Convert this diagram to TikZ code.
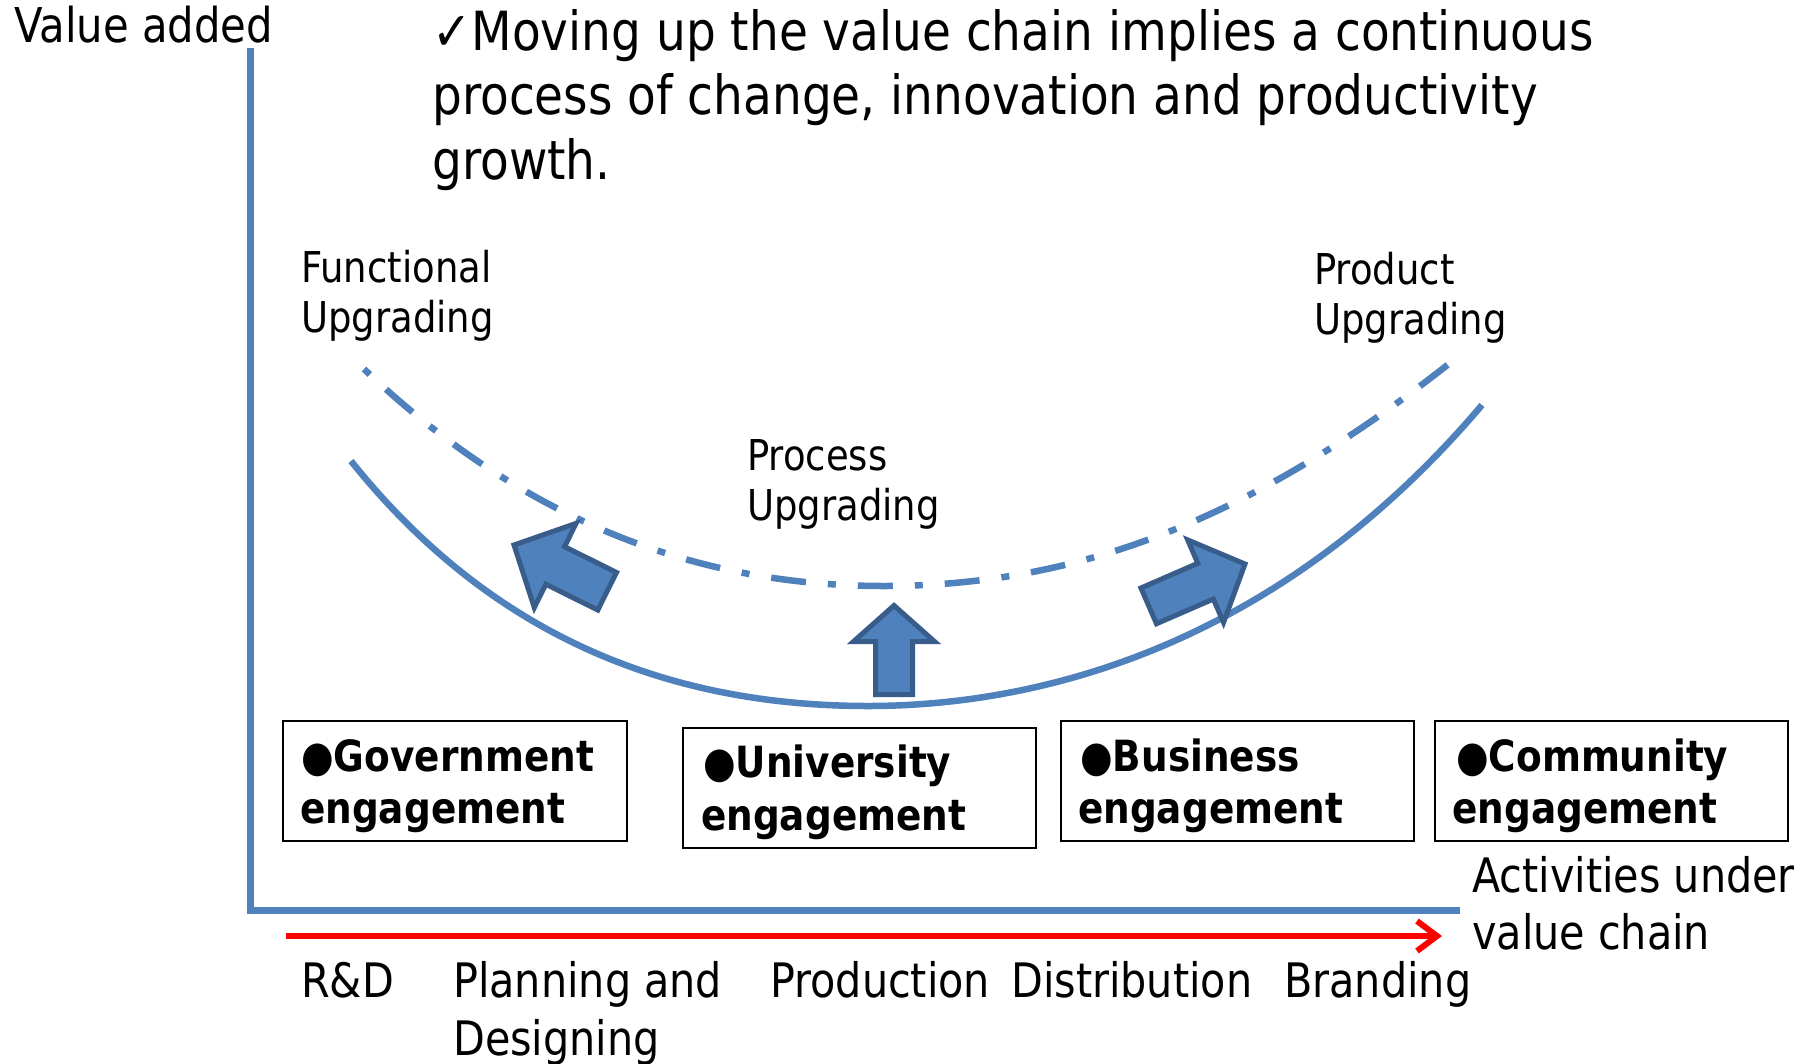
\documentclass[tikz,border=0pt]{standalone}
\usepackage{fontspec}
\setmainfont{DejaVu Sans}[FakeStretch=0.87]
\usetikzlibrary{arrows.meta}
\definecolor{accblue}{RGB}{79,129,189}
\definecolor{edgeblue}{RGB}{56,93,138}
% tip x, tip y (pixels, downwards), angle, length, head length, head half width, shaft half width
\newcommand\blkarrow[7]{%
  \begin{scope}[shift={(#1,-#2)},rotate=#3]
    \filldraw[barrow] (0,0) -- (-#5,#6) -- (-#5,#7) -- (-#4,#7) -- (-#4,-#7) -- (-#5,-#7) -- (-#5,-#6) -- cycle;
  \end{scope}}
\begin{document}
\begin{tikzpicture}[x=1bp,y=1bp,
  lbl/.style={anchor=base west, inner sep=0pt, font=\fontsize{42.5bp}{50bp}\selectfont},
  ttl/.style={anchor=base west, inner sep=0pt, font=\fontsize{54bp}{62bp}\selectfont},
  btm/.style={anchor=base west, inner sep=0pt, font=\fontsize{47.5bp}{56bp}\selectfont},
  engtxt/.style={anchor=base west, inner sep=0pt, font=\fontsize{43bp}{52bp}\selectfont\bfseries},
  engbox/.style={draw=black, line width=2bp, minimum height=120bp, inner sep=0pt},
  axisline/.style={draw=accblue, line width=7bp, line join=miter},
  solidcurve/.style={draw=accblue, line width=6.5bp},
  dashcurve/.style={draw=accblue, line width=6.5bp, dash pattern=on 8bp off 22bp on 35bp off 22bp},
  barrow/.style={fill=accblue, draw=edgeblue, line width=5bp, line join=miter},
  redarrow/.style={draw=red, line width=6bp, -{Straight Barb[length=20bp,width=30bp]}}
]
\fill[white] (0,0) rectangle (1804,-1063);
\useasboundingbox (0,0) rectangle (1804,-1063);

% axes
\coordinate (ytop) at (250,-48);
\coordinate (orig) at (250,-910);
\coordinate (xend) at (1460,-910);
\draw[axisline] (ytop) -- (orig) -- (xend);

% red activity arrow
\coordinate (ra1) at (286,-936);
\coordinate (ra2) at (1442,-936);
\draw[redarrow] (ra1) -- (ra2);

% smile curves
\coordinate (s0) at (351,-461);
\coordinate (sb) at (868,-706);
\coordinate (s1) at (1482,-405);
\draw[solidcurve] (s0) .. controls (491,-636) and (668,-706) .. (sb)
                       .. controls (1048,-706) and (1282,-641) .. (s1);
\coordinate (d0) at (364,-369);
\coordinate (db) at (884,-586);
\coordinate (d1) at (1460,-355);
\draw[dashcurve] (d0) .. controls (514,-511.5) and (684,-586) .. (db)
                      .. controls (1084,-586) and (1260,-515) .. (d1);

% block arrows
\blkarrow{514}{545}{153.6}{104}{46}{47}{21}
\blkarrow{894}{605.5}{90}{89}{36}{40.5}{18.5}
\blkarrow{1245}{564}{23.5}{105}{43}{45}{19.5}

% titles and labels
\node[lbl, font=\fontsize{48bp}{56bp}\selectfont] (val) at (14,-42) {Value added};
\node[ttl] (t1) at (432,-50) {✓Moving up the value chain implies a continuous};
\node[ttl] (t2) at (432,-114) {process of change, innovation and productivity};
\node[ttl] (t3) at (432,-179) {growth.};
\node[lbl] (fu1) at (301,-282) {Functional};
\node[lbl] (fu2) at (301,-332) {Upgrading};
\node[lbl] (pu1) at (747,-470) {Process};
\node[lbl] (pu2) at (747,-520) {Upgrading};
\node[lbl] (du1) at (1314,-284) {Product};
\node[lbl] (du2) at (1314,-334) {Upgrading};

% engagement boxes
\node[engbox, minimum width=344bp] (gov) at (455,-781) {};
\node[engbox, minimum width=353bp] (uni) at (859.5,-788) {};
\node[engbox, minimum width=353bp] (bus) at (1237.5,-781) {};
\node[engbox, minimum width=353bp] (com) at (1611.5,-781) {};
\node[engtxt] (gov1) at (301,-771) {●Government};
\node[engtxt] (gov2) at (300,-823) {engagement};
\node[engtxt] (uni1) at (703,-777) {●University};
\node[engtxt] (uni2) at (701,-830) {engagement};
\node[engtxt] (bus1) at (1080,-771) {●Business};
\node[engtxt] (bus2) at (1078,-823) {engagement};
\node[engtxt] (com1) at (1456,-771) {●Community};
\node[engtxt] (com2) at (1452,-823) {engagement};

% bottom labels
\node[btm] (act1) at (1472,-892) {Activities under};
\node[btm] (act2) at (1472,-949) {value chain};
\node[btm] (rd) at (301,-997) {R\&D};
\node[btm] (pl1) at (453,-997) {Planning and};
\node[btm] (pl2) at (453,-1055) {Designing};
\node[btm] (prod) at (770,-997) {Production};
\node[btm] (dist) at (1011,-997) {Distribution};
\node[btm] (brand) at (1284,-997) {Branding};
\end{tikzpicture}
\end{document}
